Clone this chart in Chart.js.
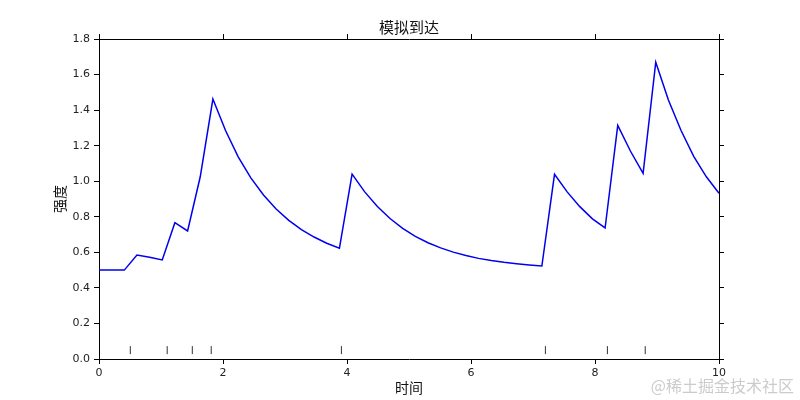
<!DOCTYPE html>
<html>
<head>
<meta charset="utf-8">
<script src="https://cdn.jsdelivr.net/npm/chart.js@4.4.0/dist/chart.umd.min.js"></script>
<style>
  body { margin: 0; background: #fff; }
  canvas { display: block; }
</style>
</head>
<body>
<canvas id="chartChegadas" width="800" height="400"></canvas>
<script>
// sample times (x) and simulated intensity
var tempos = [0, 0.204, 0.408, 0.612, 0.816, 1.020, 1.224, 1.429, 1.633, 1.837,
    2.041, 2.245, 2.449, 2.653, 2.857, 3.061, 3.265, 3.469, 3.673, 3.878,
    4.082, 4.286, 4.490, 4.694, 4.898, 5.102, 5.306, 5.510, 5.714, 5.918,
    6.122, 6.327, 6.531, 6.735, 6.939, 7.143, 7.347, 7.551, 7.755, 7.959,
    8.163, 8.367, 8.571, 8.776, 8.980, 9.184, 9.388, 9.592, 9.796, 10];
var intensidade = [0.50, 0.50, 0.50, 0.585, 0.572, 0.557, 0.767, 0.720, 1.025, 1.462,
    1.285, 1.137, 1.019, 0.923, 0.844, 0.780, 0.728, 0.686, 0.651, 0.623,
    1.040, 0.940, 0.858, 0.790, 0.735, 0.690, 0.654, 0.625, 0.601, 0.582,
    0.566, 0.554, 0.544, 0.536, 0.529, 0.523, 1.039, 0.940, 0.857, 0.788,
    0.737, 1.314, 1.170, 1.044, 1.669, 1.457, 1.285, 1.140, 1.025, 0.932];
// arrival events (rug marks)
var chegadas = [0.505, 1.10, 1.505, 1.81, 3.91, 7.20, 8.20, 8.81];
var nivelRug = 0.05;

var xTicks = [0, 2, 4, 6, 8, 10];
var yTicks = [0, 0.2, 0.4, 0.6, 0.8, 1.0, 1.2, 1.4, 1.6, 1.8];

var fonteNum = "'DejaVu Sans', 'Noto Sans CJK SC', sans-serif";
var fonteCjk = "'Noto Sans CJK SC', 'DejaVu Sans', sans-serif";

var serie = tempos.map(function (t, i) { return { x: t, y: intensidade[i] }; });
var rug = chegadas.map(function (t) { return { x: t, y: nivelRug }; });

function eixo(pos, min, max, ticks, mostrarLabels) {
    return {
        type: "linear",
        position: pos,
        min: min,
        max: max,
        afterBuildTicks: function (scale) {
            scale.ticks = ticks.map(function (v) { return { value: v }; });
        },
        ticks: {
            display: mostrarLabels,
            color: "#222",
            font: { family: fonteNum, size: 11 },
            padding: pos === "bottom" ? 3 : 4,
            maxRotation: 0,
            callback: function (v) {
                return (pos === "left" || pos === "right") ? Number(v).toFixed(1) : String(v);
            }
        },
        grid: {
            drawOnChartArea: false,
            drawTicks: true,
            tickLength: 5,
            color: "#000",
            lineWidth: 1
        },
        border: { display: true, color: "#000", width: 1 }
    };
}

var escalaX = eixo("bottom", 0, 10, xTicks, true);
escalaX.title = { display: true, text: "时间", color: "#111", font: { family: fonteCjk, size: 14 }, padding: { top: 0, bottom: 4 } };
escalaX.afterFit = function (s) { s.height = 41; };

var escalaX2 = eixo("top", 0, 10, xTicks, false);
escalaX2.title = { display: true, text: "模拟到达", color: "#111", font: { family: fonteCjk, size: 15 }, padding: { top: 18, bottom: 0 } };
escalaX2.afterFit = function (s) { s.height = 39; };

var escalaY = eixo("left", 0, 1.8, yTicks, true);
escalaY.title = { display: true, text: "强度", color: "#111", font: { family: fonteCjk, size: 14 }, padding: { top: 51, bottom: 0 } };
escalaY.afterFit = function (s) { s.width = 99; };

var escalaY2 = eixo("right", 0, 1.8, yTicks, false);
escalaY2.afterFit = function (s) { s.width = 81; };

var marcaDagua = {
    id: "marcaDagua",
    afterDraw: function (chart) {
        var c = chart.ctx;
        c.save();
        c.font = "16px " + fonteCjk;
        c.fillStyle = "rgba(140,140,140,0.45)";
        c.textAlign = "right";
        c.textBaseline = "middle";
        c.fillText("@稀土掘金技术社区", 794, 386);
        c.restore();
    }
};

var ctx = document.getElementById("chartChegadas").getContext("2d");
var myChart = new Chart(ctx, {
    type: "line",
    data: {
        datasets: [
            {
                label: "强度",
                data: serie,
                borderColor: "#0000ee",
                borderWidth: 1.5,
                pointRadius: 0,
                fill: false,
                tension: 0,
                xAxisID: "x",
                yAxisID: "y"
            },
            {
                type: "scatter",
                label: "到达",
                data: rug,
                pointStyle: "line",
                rotation: 90,
                radius: 4,
                borderColor: "#333",
                borderWidth: 1,
                xAxisID: "x",
                yAxisID: "y"
            }
        ]
    },
    options: {
        responsive: false,
        animation: false,
        layout: { padding: 0 },
        plugins: {
            legend: { display: false },
            tooltip: { enabled: false },
            title: { display: false }
        },
        scales: {
            x: escalaX,
            x2: escalaX2,
            y: escalaY,
            y2: escalaY2
        }
    },
    plugins: [marcaDagua]
});
</script>
</body>
</html>
